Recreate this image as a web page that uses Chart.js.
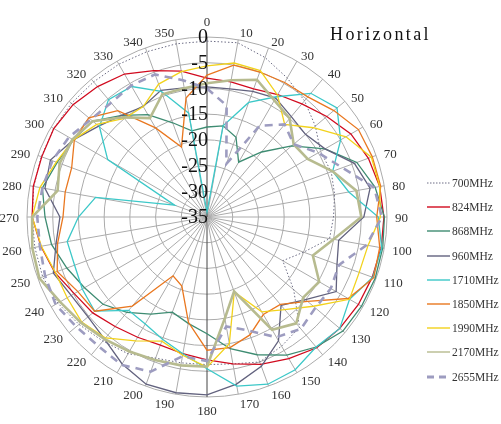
<!DOCTYPE html>
<html>
<head>
<meta charset="utf-8">
<script src="https://cdn.jsdelivr.net/npm/chart.js@4.4.1/dist/chart.umd.min.js"></script>
<style>
  html, body { margin: 0; padding: 0; background: #fff; }
  #wrap { position: relative; width: 501px; height: 424px; overflow: hidden; }
  #title { position: absolute; left: 330px; top: 24px; font: 18px "Liberation Serif", serif; letter-spacing: 2.4px; color: #111; white-space: nowrap; }
  #legend { position: absolute; left: 427px; top: 175px; }
  .item { position: absolute; left: 0; height: 16px; white-space: nowrap; }
  .item svg { position: absolute; left: 0; top: 2px; }
  .item span { position: absolute; left: 25px; top: 0; font: 11.5px "Liberation Serif", serif; color: #333; line-height: 16px; }
</style>
</head>
<body>
<div id="wrap">
  <canvas id="c" width="501" height="424"></canvas>
  <div id="title">Horizontal</div>
  <div id="legend"></div>
</div>
<script>
// ---- data ----
const angleLabels = ['0','10','20','30','40','50','60','70','80','90','100','110','120','130','140','150','160','170','180','190','200','210','220','230','240','250','260','270','280','290','300','310','320','330','340','350'];
const tickValues = [-35, -30, -25, -20, -15, -10, -5, 0];
const seriesNames = ['700MHz','824MHz','868MHz','960MHz','1710MHz','1850MHz','1990MHz','2170MHz','2655MHz'];

const s700  = [-0.8,-0.6,-2,-3.8,-5.5,-7.5,-9.5,-9.3,-9.8,-10.4,-10.8,-15,-18,-13,-7,-6,-5,-6,-6.3,-6.2,-5.8,-4.3,-3.5,-2.5,-1.5,-1,-1,-1,-0.8,-0.7,-0.6,-0.6,-0.7,-0.7,-0.8,-0.8];
const s824  = [-8,-8.3,-8.5,-7.5,-6.3,-4.6,-2.7,-1.6,-0.9,-0.6,-0.6,-0.8,-1,-1.3,-1.8,-3.2,-4.5,-6,-7.2,-8,-8.5,-8,-7.2,-6,-5.2,-3.5,-2.2,-1,-0.7,-0.8,-0.6,-1,-1.9,-2.9,-4.7,-6.2];
const s868  = [-17.5,-17,-18.5,-22.7,-18.5,-13.5,-8.5,-4,-1.8,-0.5,-0.3,-0.2,-0.3,-0.5,-2,-4,-6.5,-9,-12.3,-14,-15.3,-13.2,-10.8,-8.6,-7.5,-6,-4.3,-3.5,-2.5,-4,-5,-6,-9.2,-12,-15.5,-18];
const s960  = [-9.7,-9.7,-9,-8.3,-9.5,-10,-8.5,-4.5,-2.8,-4.5,-9,-8.1,-6,-10,-12.6,-7.2,-4.1,-2,-0.4,-0.3,-0.4,-2,-4,-4.8,-4.5,-3.2,-5.2,-6.4,-3,-2.6,-5,-7.5,-9.2,-10.2,-8.8,-9.5];
const s1710 = [-34,-17,-11.3,-8,-3.6,-2,-5,-9,-7,-1.7,-0.5,-0.7,-3,-1.3,-2,-0.7,-0.4,-1.6,-5.5,-8,-9.7,-11,-11.3,-6.5,-7,-7.6,-7.4,-10,-13,-28.3,-12.7,-7.7,-5.2,-5.7,-9,-14.5];
const s1850 = [-7.4,-5,-5,-4.8,-4.5,-2.8,-1,-0.8,-0.7,-2,-0.9,-0.5,-3.3,-9.5,-12.8,-13.1,-10.6,-9.2,-9.1,-14.2,-20.7,-21.8,-12.4,-6.5,-6,-4,-5.5,-7,-7,-7,-5.2,-5,-8,-15,-20.5,-11.5];
const s1990 = [-5.6,-4.6,-4.7,-7.6,-11.5,-8,-3.8,-1,-0.9,-1.3,-3.2,-3.5,-3,-8,-11.5,-13.7,-19.5,-10,-5.8,-7.7,-9.3,-7.2,-4.3,-3.2,-3.6,-3.6,-2.3,-1,-2,-3.8,-5,-7,-10,-10.2,-7.5,-6.3];
const s2170 = [-9,-8,-6.6,-8.8,-10,-13,-12.4,-9,-5.5,-5,-10,-13.1,-9.8,-10.6,-8,-9.7,-19.6,-15,-5.9,-5.7,-5.4,-4.8,-4,-3,-2,-0.3,-0.5,-1,-5.5,-4.5,-4.8,-6,-9.7,-12.8,-9.6,-9.6];
const s2655 = [-10,-13,-24,-14.5,-11.5,-13,-10,-7,-2,-1,-3.5,-7.7,-7.2,-7.5,-6.6,-8,-11.5,-13.4,-7,-7.5,-3,-1.8,-2.2,-1.8,-1,-1.5,-2,-2,-2.5,-3,-4,-5.5,-6,-5.5,-5.5,-8];

// ---- styles ----
const seriesData = [s700, s824, s868, s960, s1710, s1850, s1990, s2170, s2655];
const colors = ['#6d6d85','#d10a1e','#3e8c72','#62627e','#3cc8c8','#e9771f','#f2d21c','#b7bb8f','#9d9cc0'];
const widths = [1, 1.3, 1.3, 1.3, 1.3, 1.3, 1.3, 2.6, 2.6];
const dashes = [[1.5, 2], [], [], [], [], [], [], [], [8, 6]];

const CX = 207, CY = 217, RAD = 180;

const datasets = seriesData.map((d, i) => ({
  label: seriesNames[i],
  data: d,
  borderColor: colors[i],
  backgroundColor: colors[i],
  borderWidth: widths[i],
  borderDash: dashes[i],
  fill: false,
  pointRadius: 0,
  pointHoverRadius: 0,
  pointHitRadius: 0,
  tension: 0,
  order: 8 - i
}));

const labelsPlugin = {
  id: 'polarLabels',
  afterDraw(chart) {
    const s = chart.scales.r;
    const ctx = chart.ctx;
    ctx.save();
    // angle labels
    ctx.font = '13px "Liberation Serif", serif';
    ctx.fillStyle = '#333';
    angleLabels.forEach((lab, i) => {
      const p = s.getPointPosition(i, RAD + 8);
      const a = i * 10;
      if (a === 0) { ctx.textAlign = 'center'; ctx.textBaseline = 'bottom'; }
      else if (a === 180) { ctx.textAlign = 'center'; ctx.textBaseline = 'top'; }
      else { ctx.textAlign = a < 180 ? 'left' : 'right'; ctx.textBaseline = 'middle'; }
      ctx.fillText(lab, p.x, p.y + ((a === 0 || a === 180) ? 0 : 2));
    });
    // radial tick labels
    ctx.font = '20px "Liberation Serif", serif';
    ctx.fillStyle = '#111';
    ctx.textAlign = 'right';
    ctx.textBaseline = 'middle';
    tickValues.forEach(v => {
      const p = s.getPointPositionForValue(0, v);
      ctx.fillText(String(v), p.x + 1, p.y + 1);
    });
    ctx.restore();
  }
};

new Chart(document.getElementById('c'), {
  type: 'radar',
  data: { labels: angleLabels, datasets },
  options: {
    responsive: false,
    animation: false,
    events: [],
    plugins: { legend: { display: false }, tooltip: { enabled: false }, title: { display: false } },
    elements: { line: { tension: 0 } },
    scales: {
      r: {
        min: -35, max: 0,
        startAngle: 0,
        ticks: { stepSize: 5, display: false },
        pointLabels: { display: false },
        grid: { circular: true, color: '#ababab', lineWidth: 1 },
        angleLines: { display: true, color: (c) => (c.index === 0 || c.index === 18) ? '#444' : '#ababab', lineWidth: 1 },
        afterFit: (scale) => { scale.xCenter = CX; scale.yCenter = CY; scale.drawingArea = RAD; }
      }
    }
  },
  plugins: [labelsPlugin]
});

// ---- legend (HTML) ----
const legend = document.getElementById('legend');
seriesNames.forEach((name, i) => {
  const div = document.createElement('div');
  div.className = 'item';
  div.style.top = (i * 24.2) + 'px';
  const dash = dashes[i].length ? `stroke-dasharray="${i === 8 ? '7,5' : '1.5,1.5'}"` : '';
  div.innerHTML = `<svg width="24" height="12"><line x1="0" y1="6" x2="23" y2="6" stroke="${colors[i]}" stroke-width="${i === 8 ? 3 : (i === 0 ? 1 : 1.4)}" ${dash}/></svg><span>${name}</span>`;
  legend.appendChild(div);
});
</script>
</body>
</html>
